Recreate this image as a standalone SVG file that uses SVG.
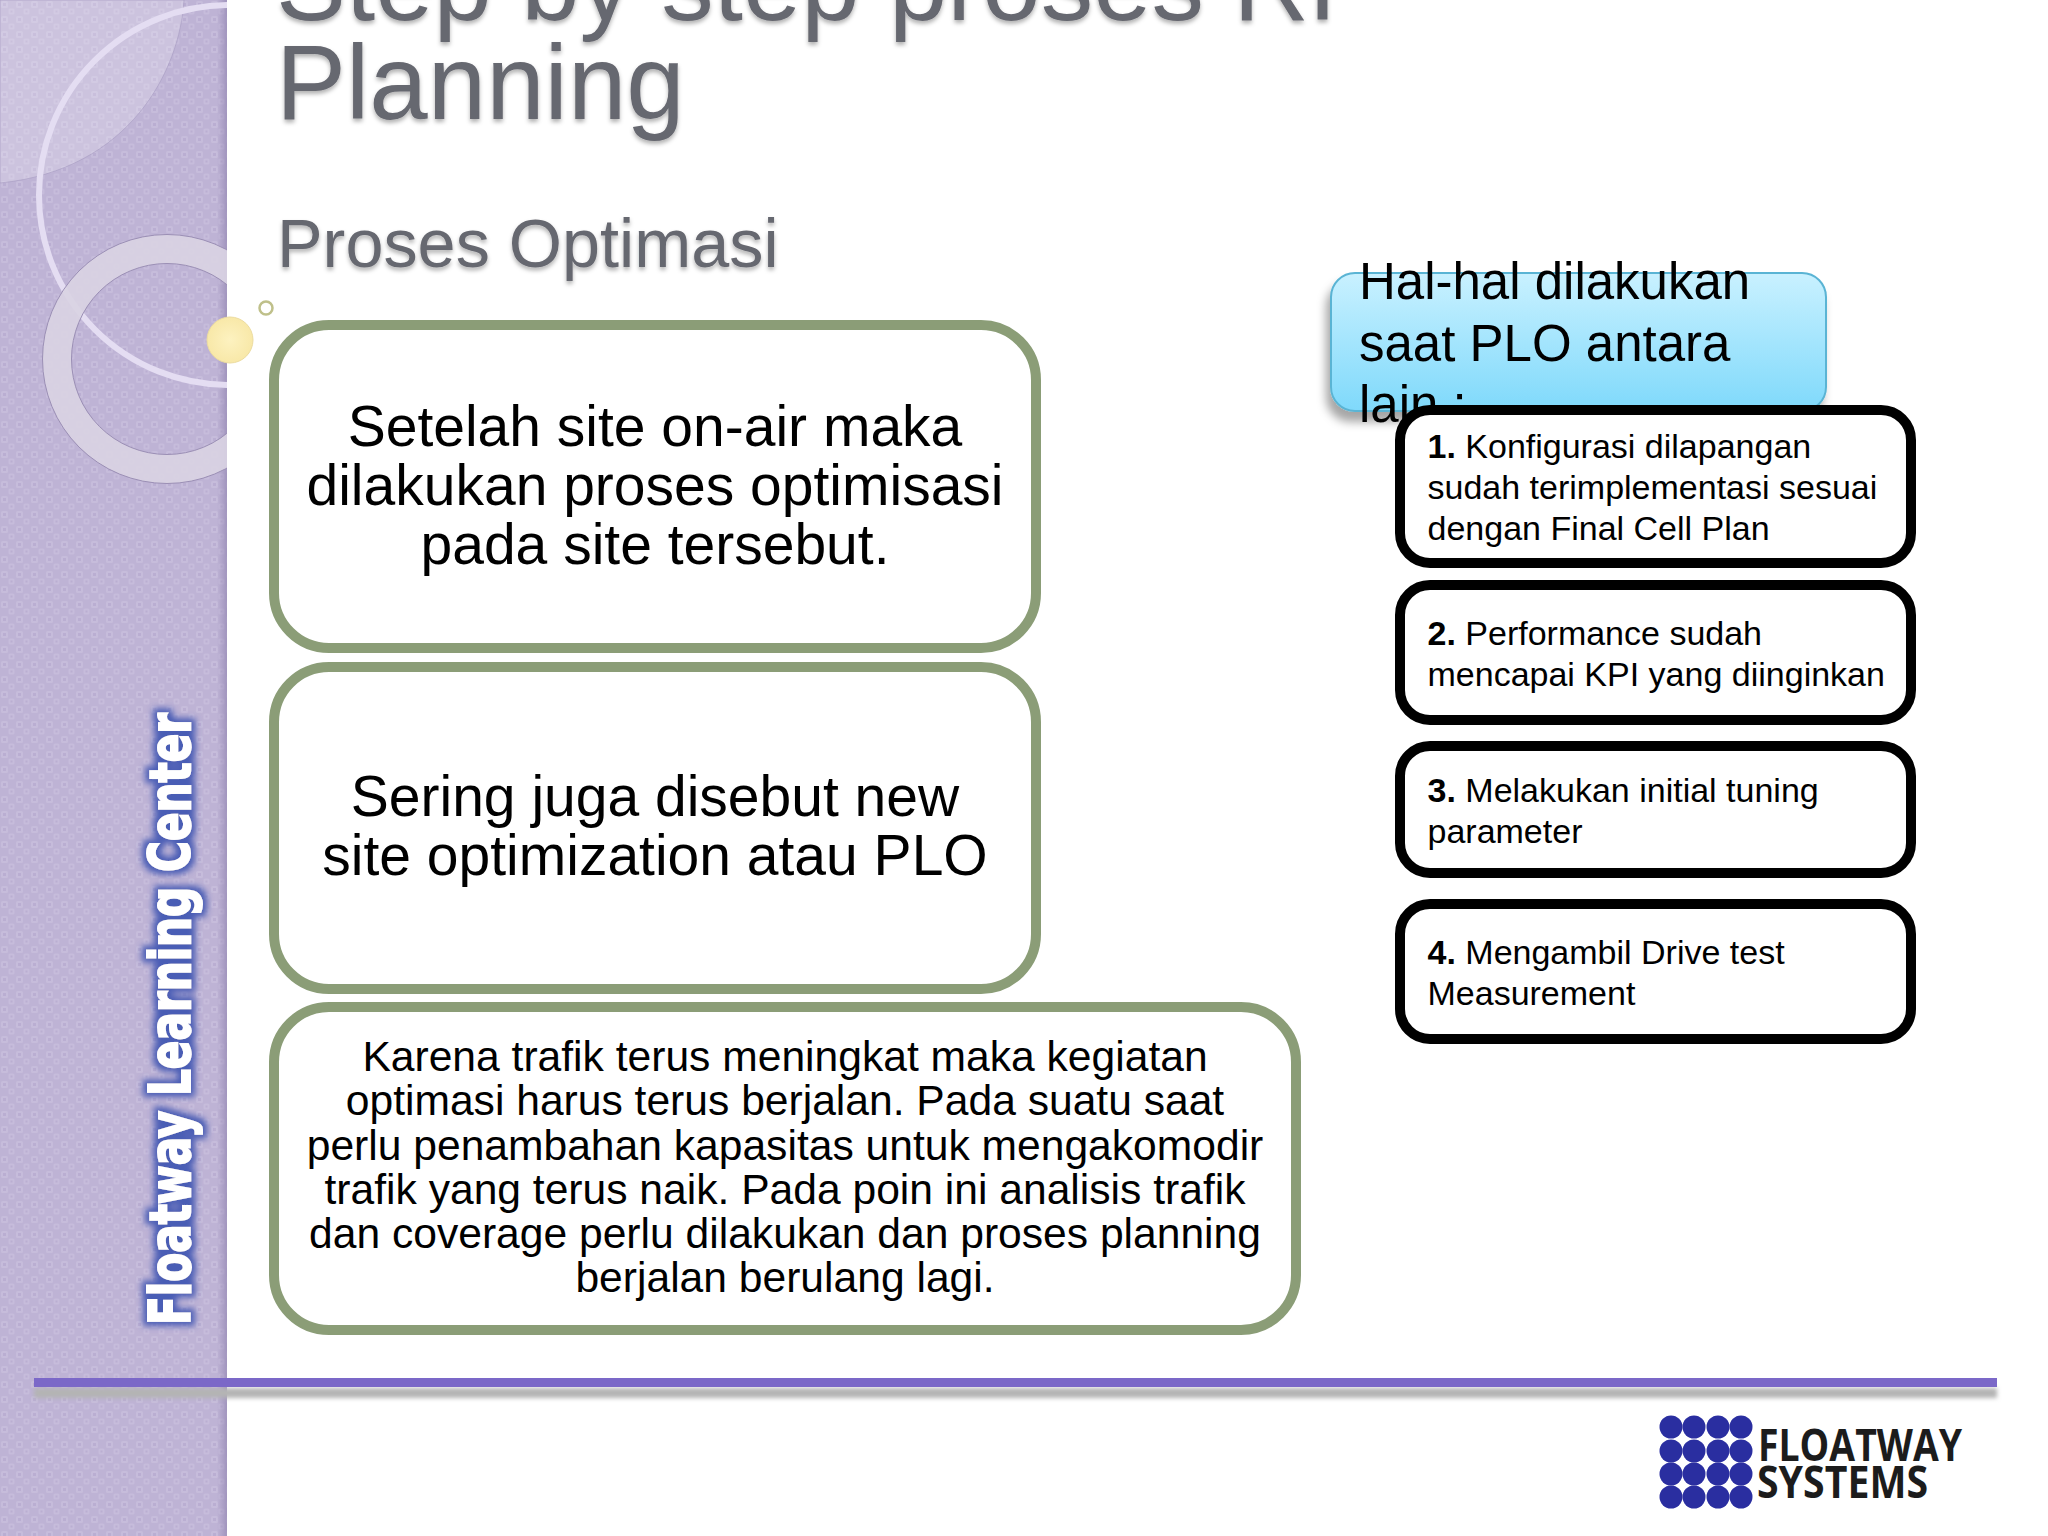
<svg xmlns="http://www.w3.org/2000/svg" width="2048" height="1536" viewBox="0 0 2048 1536">
<style>
text{font-family:"Liberation Sans",Arial,sans-serif}
.g{fill:#fff;stroke:#8b9d77;stroke-width:10}
.k{fill:#fff;stroke:#000;stroke-width:10}
.t{font-size:57px;fill:#000;text-anchor:middle}
.c{font-size:42.6px;fill:#000;text-anchor:middle}
.s{font-size:34px;fill:#000}
.b{font-size:51px;fill:#000}
.h{fill:#66676f;filter:url(#ts)}
</style>
<defs>
<pattern id="dots" width="15" height="15" patternUnits="userSpaceOnUse">
<rect width="15" height="15" fill="#beb3d5"/>
<rect x="1" y="1" width="7" height="7" rx="1.500" fill="#c6bcdb"/>
<rect x="8.500" y="8.500" width="6" height="6" rx="1.500" fill="#c6bcdb"/>
<rect x="3" y="3" width="3" height="3" fill="#baaed2"/>
<rect x="10.500" y="10.500" width="2" height="2" fill="#baaed2"/>
</pattern>
<linearGradient id="edge" x1="0" x2="1" y1="0" y2="0"><stop offset="0" stop-color="#8d80ad" stop-opacity="0"/><stop offset="1" stop-color="#8d80ad" stop-opacity=".6"/></linearGradient>
<linearGradient id="blue" x1="0" x2="0" y1="0" y2="1"><stop offset="0" stop-color="#c9f1ff"/><stop offset="1" stop-color="#7fd9fb"/></linearGradient>
<radialGradient id="yel"><stop offset="0" stop-color="#fdf2c0"/><stop offset="1" stop-color="#f8e8a8"/></radialGradient>
<filter id="ts" x="-5%" y="-10%" width="110%" height="125%"><feDropShadow dx="0" dy="3" stdDeviation="2" flood-color="#000" flood-opacity=".3"/></filter>
<filter id="sh" x="-5%" y="-10%" width="110%" height="125%"><feDropShadow dx="-4" dy="10" stdDeviation="5" flood-color="#000" flood-opacity=".35"/></filter>
<filter id="glow" x="-10%" y="-25%" width="120%" height="150%"><feMorphology in="SourceAlpha" operator="dilate" radius="4" result="d"/><feGaussianBlur in="d" stdDeviation="3" result="b"/><feFlood flood-color="#4a5db5"/><feComposite in2="b" operator="in" result="c"/><feMerge><feMergeNode in="c"/><feMergeNode in="SourceGraphic"/></feMerge></filter>
<filter id="lineSh" x="-2%" y="-100%" width="104%" height="400%"><feGaussianBlur stdDeviation="2"/></filter>
<clipPath id="side"><rect width="227" height="1536"/></clipPath>
</defs>
<rect width="2048" height="1536" fill="#fff"/>
<g id="sidebar">
<rect width="227" height="1536" fill="url(#dots)"/>
<rect x="217" width="10" height="1536" fill="url(#edge)"/>
<g clip-path="url(#side)">
<path d="M0 0H184C180 70 130 170 0 183Z" fill="#fff" fill-opacity=".22" stroke="#a79bc2" stroke-opacity=".6"/>
<circle cx="229" cy="195" r="190" fill="none" stroke="#e4ddf2" stroke-width="6"/>
<circle cx="167" cy="359" r="110" fill="none" stroke="#d9d3e3" stroke-opacity=".92" stroke-width="29"/>
<circle cx="167" cy="359" r="124.500" fill="none" stroke="#9b8fb5" stroke-width="1"/>
<circle cx="167" cy="359" r="95.500" fill="none" stroke="#9b8fb5" stroke-width="1"/>
</g>
<text transform="translate(190 1325) rotate(-90)" font-size="57" font-weight="700" fill="#fff" stroke="#fff" stroke-width="2" textLength="612" lengthAdjust="spacingAndGlyphs" style="font-family:'DejaVu Sans',sans-serif" filter="url(#glow)">Floatway Learning Center</text>
</g>
<g id="dot-large"><circle cx="230" cy="340" r="23" fill="url(#yel)" stroke="#ecdca0"/></g>
<g id="dot-small"><circle cx="266" cy="308" r="6.500" fill="#fff" stroke="#bfc08a" stroke-width="2.500"/></g>
<g id="title">
<text class="h" x="276" y="20" font-size="105">Step by step proses RF</text>
<text class="h" x="276" y="119" font-size="105">Planning</text>
</g>
<g id="subtitle"><text class="h" x="277" y="267" font-size="68.400">Proses Optimasi</text></g>
<g id="box-a"><rect class="g" x="274" y="325" width="762" height="323" rx="55"/>
<text class="t" x="655" y="446">Setelah site on-air maka</text><text class="t" x="655" y="505">dilakukan proses optimisasi</text><text class="t" x="655" y="564">pada site tersebut.</text></g>
<g id="box-b"><rect class="g" x="274" y="667" width="762" height="322" rx="55"/>
<text class="t" x="655" y="816">Sering juga disebut new</text><text class="t" x="655" y="875">site optimization atau PLO</text></g>
<g id="box-c"><rect class="g" x="274" y="1007" width="1022" height="323" rx="55"/>
<text class="c" x="785" y="1071">Karena trafik terus meningkat maka kegiatan</text>
<text class="c" x="785" y="1115">optimasi harus terus berjalan. Pada suatu saat</text>
<text class="c" x="785" y="1160">perlu penambahan kapasitas untuk mengakomodir</text>
<text class="c" x="785" y="1204">trafik yang terus naik. Pada poin ini analisis trafik</text>
<text class="c" x="785" y="1248">dan coverage perlu dilakukan dan proses planning</text>
<text class="c" x="785" y="1292">berjalan berulang lagi.</text></g>
<g id="header-blue"><rect x="1331" y="273" width="495" height="138" rx="24" fill="url(#blue)" stroke="#5ab4d4" stroke-width="2" filter="url(#sh)"/>
<text class="b" x="1359" y="299">Hal-hal dilakukan</text><text class="b" x="1359" y="361">saat PLO antara</text><text class="b" x="1359" y="422">lain :</text></g>
<g id="item-1"><rect class="k" x="1400" y="410" width="511" height="153" rx="30"/>
<text class="s" x="1427.500" y="458"><tspan font-weight="700">1.</tspan> Konfigurasi dilapangan</text><text class="s" x="1427.500" y="499">sudah terimplementasi sesuai</text><text class="s" x="1427.500" y="540">dengan Final Cell Plan</text></g>
<g id="item-2"><rect class="k" x="1400" y="585" width="511" height="135" rx="30"/>
<text class="s" x="1427.500" y="645"><tspan font-weight="700">2.</tspan> Performance sudah</text><text class="s" x="1427.500" y="686">mencapai KPI yang diinginkan</text></g>
<g id="item-3"><rect class="k" x="1400" y="746" width="511" height="127" rx="30"/>
<text class="s" x="1427.500" y="802"><tspan font-weight="700">3.</tspan> Melakukan initial tuning</text><text class="s" x="1427.500" y="843">parameter</text></g>
<g id="item-4"><rect class="k" x="1400" y="904" width="511" height="135" rx="30"/>
<text class="s" x="1427.500" y="964"><tspan font-weight="700">4.</tspan> Mengambil Drive test</text><text class="s" x="1427.500" y="1005">Measurement</text></g>
<g id="footer-line">
<rect x="34" y="1388" width="1963" height="10" fill="#b4b4b4" filter="url(#lineSh)"/>
<rect x="34" y="1378" width="1963" height="9" fill="#7b68c8"/>
</g>
<g id="logo" fill="#2a2ea0">
<circle cx="1671" cy="1427" r="11.500"/><circle cx="1694" cy="1427" r="11.500"/><circle cx="1718" cy="1427" r="11.500"/><circle cx="1741" cy="1427" r="11.500"/>
<circle cx="1671" cy="1451" r="11.500"/><circle cx="1694" cy="1451" r="11.500"/><circle cx="1718" cy="1451" r="11.500"/><circle cx="1741" cy="1451" r="11.500"/>
<circle cx="1671" cy="1474" r="11.500"/><circle cx="1694" cy="1474" r="11.500"/><circle cx="1718" cy="1474" r="11.500"/><circle cx="1741" cy="1474" r="11.500"/>
<circle cx="1671" cy="1497" r="11.500"/><circle cx="1694" cy="1497" r="11.500"/><circle cx="1718" cy="1497" r="11.500"/><circle cx="1741" cy="1497" r="11.500"/>
<text x="1758" y="1461" font-size="44" font-weight="700" fill="#1c1c1c" textLength="204" lengthAdjust="spacingAndGlyphs" style="font-family:'Open Sans',sans-serif">FLOATWAY</text>
<text x="1757" y="1498" font-size="44" font-weight="700" fill="#1c1c1c" textLength="171" lengthAdjust="spacingAndGlyphs" style="font-family:'Open Sans',sans-serif">SYSTEMS</text>
</g>
</svg>
